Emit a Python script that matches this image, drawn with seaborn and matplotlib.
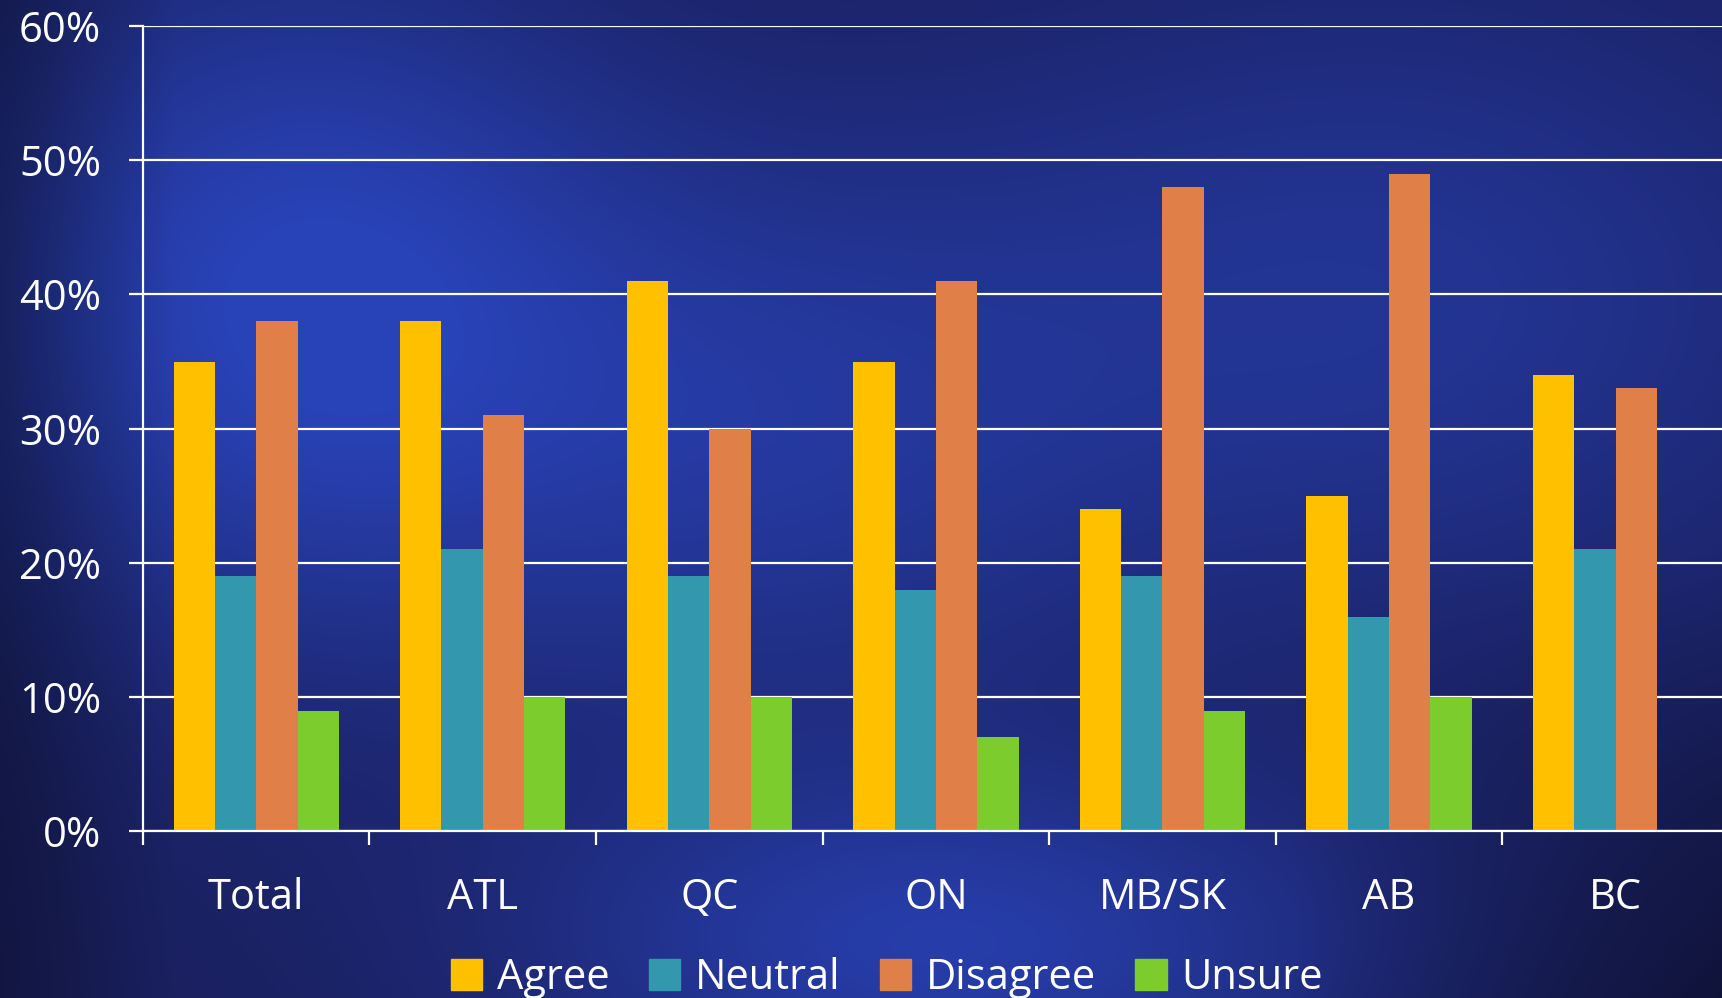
"""Survey responses by region: grouped bar chart on a dark blue backdrop."""

import numpy as np
import pandas as pd
import matplotlib
matplotlib.use("Agg")
import matplotlib.pyplot as plt
import seaborn as sns

# Chart data
regions = ["Total", "ATL", "QC", "ON", "MB/SK", "AB", "BC"]
responses = ["Agree", "Neutral", "Disagree", "Unsure"]
agree = [35, 38, 41, 35, 24, 25, 34]
neutral = [19, 21, 19, 18, 19, 16, 21]
disagree = [38, 31, 30, 41, 48, 49, 33]
unsure = [9, 10, 10, 7, 9, 10, np.nan]
y_ticks = [0, 10, 20, 30, 40, 50, 60]

colors = ["#FFC000", "#3397AE", "#E07F47", "#7DCC2D"]

# Build long-format table for seaborn
rows = []
for resp, vals in zip(responses, [agree, neutral, disagree, unsure]):
    for reg, v in zip(regions, vals):
        rows.append({"Region": reg, "Response": resp, "Value": v})
df = pd.DataFrame(rows)

sns.set_theme(style="white")
plt.rcParams["font.family"] = ["Open Sans", "DejaVu Sans"]

fig = plt.figure(figsize=(17.22, 9.98), dpi=100)

# Background gradient (decoration only)
bg = fig.add_axes([0, 0, 1, 1], zorder=-10)
h, w = 200, 345
yy, xx = np.mgrid[0:h, 0:w]
xx = xx / w
yy = yy / h
glow = np.exp(-(((xx - 0.17) / 0.2) ** 2 + ((yy - 0.3) / 0.35) ** 2))
glow2 = 0.8 * np.exp(-(((xx - 0.55) / 0.25) ** 2 + ((yy - 0.95) / 0.18) ** 2))
glow3 = 0.6 * np.exp(-(((xx - 0.8) / 0.3) ** 2 + ((yy - 0.3) / 0.35) ** 2))
glow4 = 0.5 * np.exp(-(((xx - 0.45) / 0.2) ** 2 + ((yy - 0.45) / 0.3) ** 2))
g = np.clip(glow + glow2 + glow3 + glow4, 0, 1)
dark = np.array([0.10, 0.12, 0.36])
bright = np.array([0.16, 0.26, 0.72])
img = dark[None, None, :] * (1 - g[..., None]) + bright[None, None, :] * g[..., None]
# darker edges on the left and lower right
edge = (np.clip(1 - xx / 0.1, 0, 1) * 0.3
        + np.clip((xx - 0.75) / 0.25, 0, 1) * np.clip((yy - 0.55) / 0.45, 0, 1) * 0.4)
img = img * (1 - edge[..., None])
bg.imshow(img, aspect="auto", extent=[0, 1, 1, 0], interpolation="bicubic")
bg.set_axis_off()

ax = fig.add_axes([0.083, 0.167, 0.921, 0.807])
ax.patch.set_alpha(0)

sns.barplot(
    data=df, x="Region", y="Value", hue="Response", hue_order=responses,
    palette=colors, width=0.73, saturation=1, ax=ax, legend=False,
    errorbar=None, zorder=3, linewidth=0,
)

ax.set_ylim(0, 60)
ax.set_xlim(-0.5, 6.5)
ax.set_yticks(y_ticks)
ax.set_yticklabels([f"{t}%" for t in y_ticks])
ax.set_xlabel("")
ax.set_ylabel("")

ax.grid(axis="y", color="white", linewidth=1.6, zorder=0)
ax.set_axisbelow(True)
for side in ["top", "right"]:
    ax.spines[side].set_visible(False)
for side in ["left", "bottom"]:
    ax.spines[side].set_color("white")
    ax.spines[side].set_linewidth(1.6)
    ax.spines[side].set_zorder(4)

ax.tick_params(axis="y", colors="white", labelsize=30, length=10, width=1.6, pad=20, left=True)
ax.tick_params(axis="x", which="major", colors="white", labelsize=30, length=0, pad=33)
ax.set_xticks(np.arange(-0.5, 7, 1), minor=True)
ax.tick_params(axis="x", which="minor", colors="white", length=10, width=1.6, bottom=True)

handles = [plt.Rectangle((0, 0), 1, 1, color=c) for c in colors]
fig.legend(
    handles, responses, loc="center", bbox_to_anchor=(0.515, 0.02), ncol=4,
    frameon=False, fontsize=30, labelcolor="white", handlelength=0.75,
    handleheight=0.75, handletextpad=0.35, columnspacing=0.95,
)

fig.savefig("out.png", dpi=100)
